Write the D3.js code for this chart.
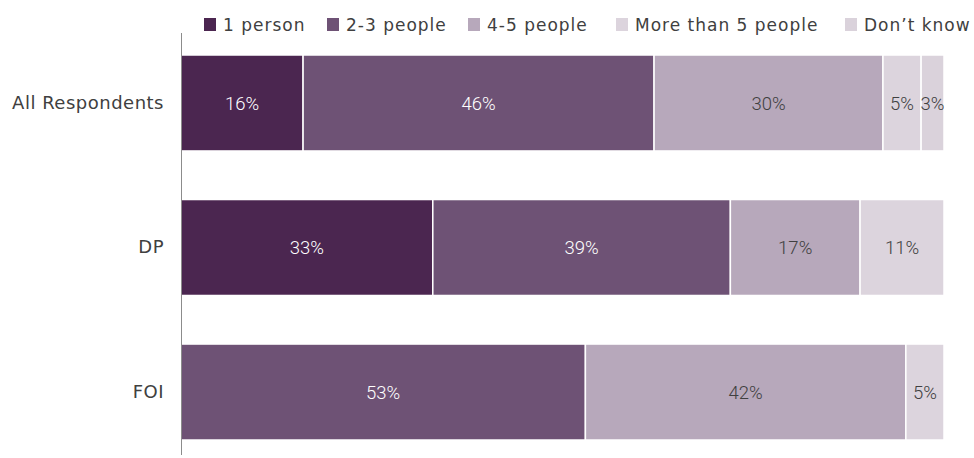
<!DOCTYPE html>
<html>
<head>
<meta charset="utf-8">
<script src="https://cdn.jsdelivr.net/npm/d3@7"></script>
<style>
  body { margin: 0; background: #fff; }
  svg { display: block; }
</style>
</head>
<body>
<div id="chart"></div>
<script>
const groups = ["All Respondents", "DP", "FOI"];
const seriesNames = ["1 person", "2-3 people", "4-5 people", "More than 5 people", "Don\u2019t know"];
const onePerson = [16, 33, 0];
const twoThree = [46, 39, 53];
const fourFive = [30, 17, 42];
const moreThanFive = [5, 11, 5];
const dontKnow = [3, 0, 0];
const colors = ["#4b2650", "#6e5275", "#b7a8bb", "#dcd4dd", "#dad2db"];
const labelColors = ["#ffffff", "#ffffff", "#404040", "#404040", "#404040"];

const width = 974, height = 458;
const margin = { left: 181, right: 30 };
const axisTop = 33, axisBottom = 455;

const rows = groups.map((g, i) => ({
  group: g,
  [seriesNames[0]]: onePerson[i],
  [seriesNames[1]]: twoThree[i],
  [seriesNames[2]]: fourFive[i],
  [seriesNames[3]]: moreThanFive[i],
  [seriesNames[4]]: dontKnow[i]
}));

const stacked = d3.stack().keys(seriesNames)(rows);

const svg = d3.select("#chart").append("svg")
  .attr("width", width)
  .attr("height", height);

const x = d3.scaleLinear()
  .domain([0, 100])
  .range([margin.left, width - margin.right]);

const y = d3.scaleBand()
  .domain(groups)
  .range([55, 440])
  .paddingInner(0.336)
  .paddingOuter(0);

const color = d3.scaleOrdinal().domain(seriesNames).range(colors);

// bars
const layer = svg.append("g")
  .selectAll("g")
  .data(stacked)
  .enter()
  .append("g")
  .attr("fill", d => color(d.key));

layer.selectAll("rect")
  .data(d => d.filter(s => s[1] - s[0] > 0))
  .enter()
  .append("rect")
  .attr("x", d => x(d[0]))
  .attr("y", d => y(d.data.group))
  .attr("width", d => x(d[1]) - x(d[0]))
  .attr("height", y.bandwidth())
  .attr("stroke", "#fff")
  .attr("stroke-width", 1.5);

// value labels
stacked.forEach((s, si) => {
  svg.append("g")
    .selectAll("text")
    .data(s.filter(d => d[1] - d[0] > 0))
    .enter()
    .append("text")
    .attr("x", d => (x(d[0]) + x(d[1])) / 2)
    .attr("y", d => y(d.data.group) + y.bandwidth() / 2)
    .attr("dy", "0.36em")
    .attr("text-anchor", "middle")
    .style("font-family", "Roboto, sans-serif")
    .style("font-weight", "300")
    .style("font-size", "18.5px")
    .attr("fill", labelColors[si])
    .text(d => (d[1] - d[0]) + "%");
});

// y axis
const yAxis = svg.append("g")
  .attr("transform", `translate(${margin.left},0)`)
  .call(d3.axisLeft(y).tickSize(0).tickPadding(17));
yAxis.select(".domain")
  .attr("stroke", "#8c8c8c")
  .attr("d", `M0.5,${axisTop}V${axisBottom}`);
yAxis.selectAll("text")
  .style("font-family", "DejaVu Sans, sans-serif")
  .style("font-size", "18px")
  .style("letter-spacing", "0.5px")
  .attr("fill", "#404040");

// legend
const legendX = [204, 327, 468, 616, 845];
const legend = svg.append("g").attr("transform", "translate(0,18)");
const item = legend.selectAll("g")
  .data(seriesNames)
  .enter()
  .append("g")
  .attr("transform", (d, i) => `translate(${legendX[i]},0)`);
item.append("rect")
  .attr("width", 12)
  .attr("height", 13)
  .attr("fill", d => color(d));
item.append("text")
  .attr("x", 19)
  .attr("y", 13)
  .style("font-family", "DejaVu Sans, sans-serif")
  .style("font-size", "17px")
  .style("letter-spacing", "1px")
  .attr("fill", "#404040")
  .text(d => d);
</script>
</body>
</html>
